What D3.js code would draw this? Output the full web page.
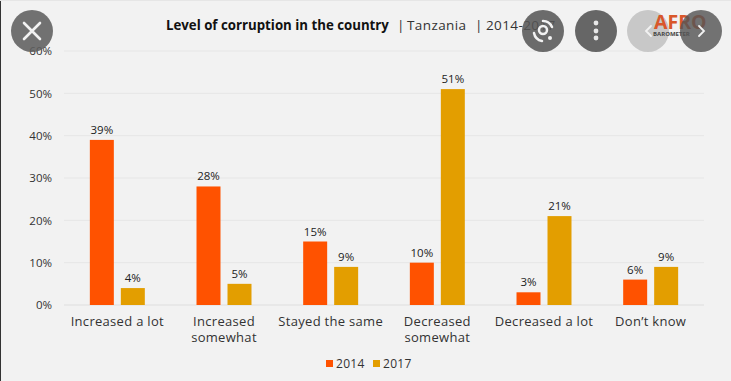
<!DOCTYPE html>
<html><head><meta charset="utf-8">
<script src="https://cdn.jsdelivr.net/npm/d3@7/dist/d3.min.js"></script>
<style>html,body{margin:0;padding:0;background:#f2f2f2}svg{display:block}text{font-family:"Open Sans",sans-serif}</style>
</head><body><svg id="c" width="731" height="381"></svg>
<script>
const categories=[["Increased a lot"],["Increased","somewhat"],["Stayed the same"],["Decreased","somewhat"],["Decreased a lot"],["Don\u2019t know"]];
const catKeys=categories.map(d=>d.join(" "));
const series2014=[39,28,15,10,3,6];
const series2017=[4,5,9,51,21,9];
const seriesNames=["2014","2017"];
const colors=["#ff5200","#e39e00"];
const yTicks=[0,10,20,30,40,50,60];
const titleParts=[["|",397],["Tanzania",407],["|",475],["2014-2017",486]];
const svg=d3.select("#c");
const W=731,H=381;
svg.append("rect").attr("width",W).attr("height",H).attr("fill","#f2f2f2");
svg.append("rect").attr("width",1).attr("height",H).attr("fill","#333");
svg.append("rect").attr("width",W).attr("height",1).attr("fill","#e6e6e6");
const x=d3.scaleBand().domain(catKeys).range([64,704]);
const x2=d3.scaleBand().domain(seriesNames).range([0,x.bandwidth()]).paddingInner(0.226).paddingOuter(0.834);
const y=d3.scaleLinear().domain([0,60]).range([305,51]);
const yAxis=d3.axisLeft(y).tickValues(yTicks).tickSize(0).tickPadding(12).tickFormat(d=>d+"%");
const gy=svg.append("g").attr("transform","translate(64,0)").call(yAxis);
gy.select(".domain").remove();
gy.selectAll("text").attr("font-size",11.5).attr("fill","#333").attr("font-family",'"Open Sans",sans-serif');
svg.append("g").selectAll("line").data(yTicks).join("line")
 .attr("x1",64).attr("x2",704).attr("y1",d=>y(d)).attr("y2",d=>y(d))
 .attr("stroke",d=>d===0?"#dedede":"#e6e6e6").attr("stroke-width",1);
[series2014,series2017].forEach((vals,si)=>{
 const g=svg.append("g");
 g.selectAll("rect").data(vals).join("rect")
  .attr("x",(d,i)=>x(catKeys[i])+x2(seriesNames[si]))
  .attr("width",x2.bandwidth())
  .attr("y",d=>y(d)).attr("height",d=>y(0)-y(d)).attr("fill",colors[si]);
 g.selectAll("text").data(vals).join("text")
  .attr("x",(d,i)=>x(catKeys[i])+x2(seriesNames[si])+x2.bandwidth()/2)
  .attr("y",d=>y(d)-6).attr("text-anchor","middle")
  .attr("font-size",11.5).attr("fill","#222").text(d=>d+"%");
});
const gx=svg.append("g");
categories.forEach((lines,i)=>{
 const t=gx.append("text").attr("text-anchor","middle").attr("font-size",13).attr("letter-spacing",0.3).attr("fill","#333")
  .attr("x",x(catKeys[i])+x.bandwidth()/2).attr("y",326);
 lines.forEach((l,j)=>t.append("tspan").attr("x",x(catKeys[i])+x.bandwidth()/2).attr("dy",j?16:0).text(l));
});
svg.append("text").attr("x",166).attr("y",30).attr("font-size",13.25).attr("font-weight",700).attr("fill","#111").text("Level of corruption in the country");
svg.append("g").selectAll("text").data(titleParts).join("text")
 .attr("x",d=>d[1]).attr("y",30).attr("font-size",13.5).attr("letter-spacing",0.4).attr("fill","#333").text(d=>d[0]);
const legendX=[326,373];
seriesNames.forEach((n,i)=>{
 svg.append("rect").attr("x",legendX[i]).attr("y",360).attr("width",7).attr("height",7).attr("fill",colors[i]);
 svg.append("text").attr("x",legendX[i]+10).attr("y",368).attr("font-size",12).attr("letter-spacing",0.3).attr("fill","#333").text(n);
});
// viewer overlay buttons (under the logo)
const btns=[[32,31,"#5f5f5f",.88],[543,31,"#555",.86],[596,31,"#666",1],[648,31,"#c8c8c8",1]];
svg.append("g").selectAll("circle").data(btns).join("circle")
 .attr("cx",d=>d[0]).attr("cy",d=>d[1]).attr("r",21).attr("fill",d=>d[2]).attr("opacity",d=>d[3]);
// logo
const logo=svg.append("g");
logo.append("text").attr("x",654).attr("y",29).attr("font-size",19.5).attr("font-weight",700).attr("fill","#d9572b").text("AFRO");
logo.append("text").attr("x",653).attr("y",36).attr("font-size",6).attr("font-weight",700).attr("fill","#444").text("BAROMETER");
svg.append("circle").attr("cx",701).attr("cy",31).attr("r",21).attr("fill","#555").attr("opacity",.82);
const ic=svg.append("g").attr("fill","none").attr("stroke","#f2f2f2").attr("stroke-linecap","round");
ic.append("path").attr("d","M24 23L40 39M40 23L24 39").attr("stroke-width",2.6);
ic.append("path").attr("d","M534 33a10 10 0 0 0 8 8M543 21a10 10 0 0 1 9 6").attr("stroke-width",2.5);
ic.append("circle").attr("cx",543).attr("cy",30).attr("r",4).attr("stroke-width",2.5);
svg.append("circle").attr("cx",550).attr("cy",38).attr("r",2).attr("fill","#f2f2f2");
[23,31,38].forEach(cy=>svg.append("circle").attr("cx",596).attr("cy",cy).attr("r",2.4).attr("fill","#e8e8e8"));
ic.append("path").attr("d","M651 26l-5 5 5 5").attr("stroke-width",1.8);
ic.append("path").attr("d","M699 26l5 5-5 5").attr("stroke-width",1.8);
</script></body></html>
